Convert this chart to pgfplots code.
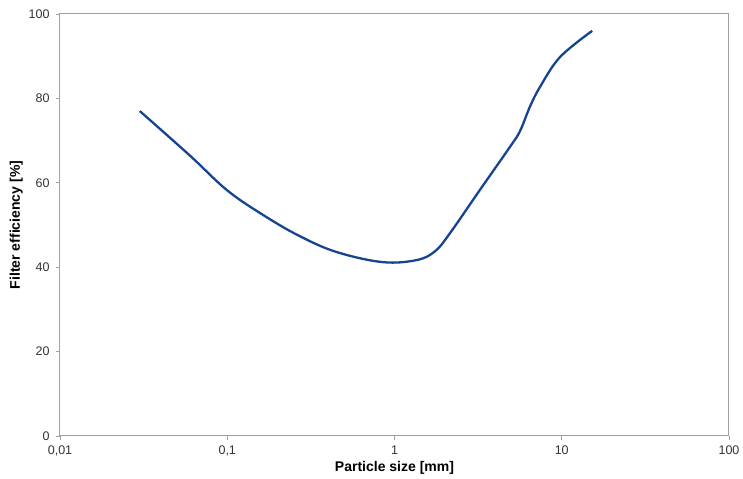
\documentclass[border=0pt]{standalone}
\usepackage{pgfplots}
\pgfplotsset{compat=1.18}
\usepackage{fontspec}
\setmainfont{Liberation Sans}
\definecolor{curve}{RGB}{22,68,145}
\definecolor{axgray}{RGB}{160,160,160}
\begin{document}
\begin{tikzpicture}
\begin{axis}[
  scale only axis,
  width=669pt, height=422pt,
  xmode=log,
  xmin=0.01, xmax=100,
  ymin=0, ymax=100,
  xtick={0.01,0.1,1,10,100},
  xticklabels={{0,01},{0,1},1,10,100},
  ytick={0,20,40,60,80,100},
  xminorticks=false,
  xtick pos=bottom, ytick pos=left,
  tick align=outside,
  major tick length=4pt,
  axis line style={axgray, line width=1pt},
  every tick/.style={axgray, line width=0.8pt},
  tick label style={font=\fontsize{12.5}{14}\selectfont, text=black!80},
  yticklabel style={xshift=-3pt},
  xticklabel style={yshift=-2pt},
  /pgf/number format/assume math mode=true,
  xlabel={\textbf{Particle size [mm]}},
  ylabel={\textbf{Filter efficiency [\%]}},
  label style={font=\fontsize{14}{16}\selectfont},
  xlabel style={yshift=1pt},
  ylabel style={yshift=-1pt},
]
\addplot[curve, line width=2.3pt, smooth, tension=0.6] coordinates {
(0.030,77)
(0.06,66.4)
(0.1,58.2)
(0.165,52.3)
(0.27,47.4)
(0.45,43.6)
(0.85,41.2)
(1.36,41.7)
(1.75,43.8)
(2.15,48.1)
(3.24,58.3)
(4.9,68.5)
(5.62,72.2)
(6.45,78)
(7.41,82.7)
(9.77,89.8)
(15.2,96)
};
\end{axis}
\pgfresetboundingbox
\path[use as bounding box] ([xshift=-60pt,yshift=-43pt]current axis.south west) rectangle ([xshift=14pt,yshift=14pt]current axis.north east);
\end{tikzpicture}
\end{document}
